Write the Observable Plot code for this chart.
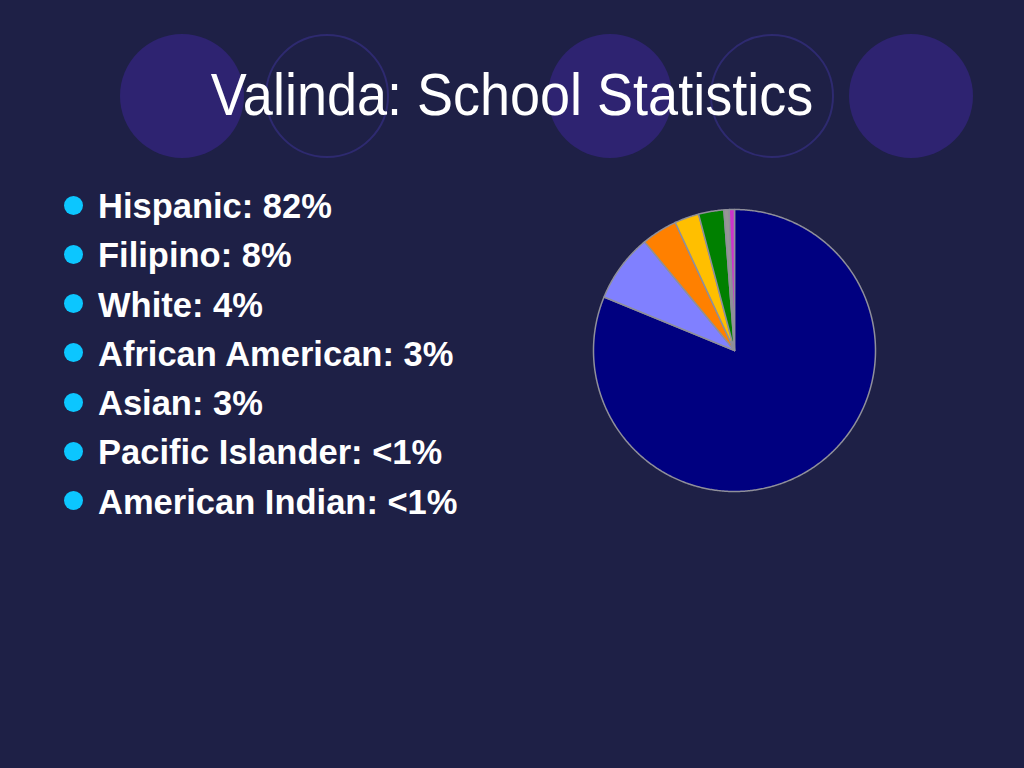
<!DOCTYPE html>
<html>
<head>
<meta charset="utf-8">
<script src="https://cdn.jsdelivr.net/npm/d3@7"></script>
<script src="https://cdn.jsdelivr.net/npm/@observablehq/plot@0.6"></script>
<style>
  html, body { margin: 0; padding: 0; }
  body { width: 1024px; height: 768px; overflow: hidden; background: #1e2046; position: relative;
         font-family: "Liberation Sans", Arial, Helvetica, sans-serif; }
  .deco { position: absolute; width: 124px; height: 124px; border-radius: 50%; top: 34px; box-sizing: border-box; }
  .deco.fill { background: #2e2371; }
  .deco.ring { border: 2px solid #2e2a70; }
  #title { position: absolute; left: 0; width: 1024px; top: 57px; text-align: center; color: #fff;
           font-size: 54px; line-height: 70px; transform: scaleY(1.08); transform-origin: 50% 0; margin: 0; font-weight: normal; }
  #list { position: absolute; left: 0; top: 182px; margin: 0; padding: 0; list-style: none; }
  #list li { position: relative; padding-left: 98px; font-size: 34.5px; line-height: 49.3px; height: 49.3px;
             font-weight: bold; color: #fff; white-space: nowrap; }
  #list li::before { content: ""; position: absolute; left: 64px; top: 13.5px; width: 19px; height: 19px;
                     border-radius: 50%; background: #0cc6ff; }
  #pie { position: absolute; left: 589px; top: 205px; }
</style>
</head>
<body>
<div class="deco fill" style="left:120px"></div>
<div class="deco ring" style="left:265px"></div>
<div class="deco fill" style="left:548px"></div>
<div class="deco ring" style="left:710px"></div>
<div class="deco fill" style="left:849px"></div>
<h1 id="title">Valinda: School Statistics</h1>
<ul id="list"></ul>
<div id="pie"></div>
<script>
// Data
const categories = ["Hispanic", "Filipino", "White", "African American", "Asian", "Pacific Islander", "American Indian"];
const percentLabels = ["82%", "8%", "4%", "3%", "3%", "<1%", "<1%"];
const shares = [81.2, 7.8, 4.1, 2.8, 2.9, 0.6, 0.6]; // pie slice sizes as drawn
const sliceColors = ["#000080", "#8080ff", "#ff8000", "#ffbf00", "#008000", "#969696", "#cc33cc"];

// Bullet list
const list = document.getElementById("list");
categories.forEach((c, i) => {
  const li = document.createElement("li");
  li.textContent = `${c}: ${percentLabels[i]}`;
  list.appendChild(li);
});

// Pie geometry: clockwise from 12 o'clock
const arcs = d3.pie().sort(null).value(d => d)(shares);
const pts = [];
arcs.forEach((a, i) => {
  const cat = categories[i];
  pts.push({cat, x: 0, y: 0});
  const n = Math.max(2, Math.ceil((a.endAngle - a.startAngle) / (Math.PI / 360)));
  for (let k = 0; k <= n; k++) {
    const t = a.startAngle + (a.endAngle - a.startAngle) * k / n;
    pts.push({cat, x: Math.sin(t), y: Math.cos(t)});
  }
});

const chart = Plot.plot({
  width: 290,
  height: 290,
  margin: 4,
  x: {domain: [-1, 1], axis: null},
  y: {domain: [-1, 1], axis: null},
  color: {domain: categories, range: sliceColors},
  style: {background: "transparent", overflow: "visible"},
  marks: [
    Plot.line(pts, {x: "x", y: "y", z: "cat", fill: "cat", stroke: "#8f8f9a", strokeWidth: 1.5, curve: "linear-closed"})
  ]
});
document.getElementById("pie").appendChild(chart);
</script>
</body>
</html>
